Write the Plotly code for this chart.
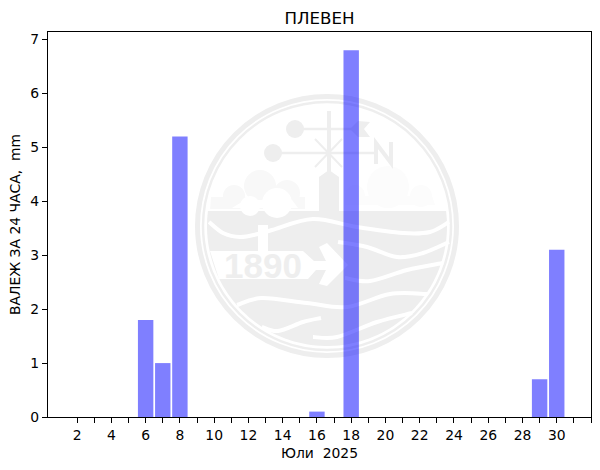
import numpy as np
import plotly.graph_objects as go

days = [6, 7, 8, 16, 18, 29, 30]
rain = [1.8, 1.0, 5.2, 0.1, 6.8, 0.7, 3.1]
tick_vals = list(range(2, 33))
tick_text = [str(d) if d % 2 == 0 and d < 32 else "" for d in tick_vals]
title = "ПЛЕВЕН"
x_title = "Юли  2025"
y_title = "ВАЛЕЖ ЗА 24 ЧАСА,  mm"

W, H, L, R, T, B = 600, 470, 48, 591, 32, 417
GREY = "#eeeeee"

def X(p): return (p - L) / (R - L)
def Y(p): return (B - p) / (B - T)
def path(pts, close=True):
    s = "M" + " L".join(f"{X(a):.5f},{Y(b):.5f}" for a, b in pts)
    return s + (" Z" if close else "")
def curve(pts):
    # Catmull-Rom style smooth curve through pixel points, for the logo waves
    out = f"M{X(pts[0][0]):.5f},{Y(pts[0][1]):.5f}"
    n = len(pts)
    for i in range(n - 1):
        p0 = pts[max(i - 1, 0)]; p1 = pts[i]; p2 = pts[i + 1]; p3 = pts[min(i + 2, n - 1)]
        c1 = (p1[0] + (p2[0] - p0[0]) / 6, p1[1] + (p2[1] - p0[1]) / 6)
        c2 = (p2[0] - (p3[0] - p1[0]) / 6, p2[1] - (p3[1] - p1[1]) / 6)
        out += (f" C{X(c1[0]):.5f},{Y(c1[1]):.5f} {X(c2[0]):.5f},{Y(c2[1]):.5f}"
                f" {X(p2[0]):.5f},{Y(p2[1]):.5f}")
    return out

CX, CY = 327, 226
shapes = []
def ring(r, w, col=GREY):
    shapes.append(dict(type="circle", xref="paper", yref="paper", layer="below",
                       x0=X(CX - r), x1=X(CX + r), y0=Y(CY + r), y1=Y(CY - r),
                       line=dict(color=col, width=w), fillcolor="rgba(0,0,0,0)"))
def dot(x, y, r, col=GREY):
    shapes.append(dict(type="circle", xref="paper", yref="paper", layer="below",
                       x0=X(x - r), x1=X(x + r), y0=Y(y + r), y1=Y(y - r),
                       line=dict(width=0), fillcolor=col))
def poly(pts, col=GREY):
    shapes.append(dict(type="path", xref="paper", yref="paper", layer="below",
                       path=path(pts), line=dict(width=0), fillcolor=col))
def stroke(d, w, col="white"):
    shapes.append(dict(type="path", xref="paper", yref="paper", layer="below",
                       path=d, line=dict(color=col, width=w), fillcolor="rgba(0,0,0,0)"))

ring(129.5, 5)
ring(124, 2.5)
# lower half disc
RD = 120
a = np.arcsin((211 - CY) / RD)
t = np.linspace(a, np.pi - a, 90)
poly([(CX + RD * np.cos(v), CY + RD * np.sin(v)) for v in t])
# left cloud, outer shape then white inner cloud
LC = "#f8f8f8"
for x, y, r in [(260, 186, 16), (234, 196, 11), (287, 193, 13)]:
    dot(x, y, r, LC)
poly([(210, 211), (211, 197), (305, 197), (305, 211)], LC)
for x, y, r in [(277, 203, 15), (250, 206, 10)]:
    dot(x, y, r, "white")
poly([(232, 208), (245, 200), (292, 200), (298, 208)], "white")
poly([(210, 209), (320, 209), (320, 211), (210, 211)], "white")
# right cloud
RC = "#fcfcfc"
for x, y, r in [(388, 187, 21), (355, 195, 10), (421, 196, 11)]:
    dot(x, y, r, RC)
poly([(345, 205), (345, 196), (432, 196), (435, 205)], RC)
# weather vane
stroke(path([(329, 111), (329, 175)], False), 4, GREY)
stroke(path([(295, 129), (357, 129)], False), 2.5, GREY)
stroke(path([(273, 153), (376, 153)], False), 2.5, GREY)
stroke(path([(315, 139), (342, 167)], False), 2, GREY)
stroke(path([(342, 139), (315, 167)], False), 2, GREY)
dot(295, 129, 9)
dot(273, 153, 9)
poly([(350, 129), (358, 121), (370, 122), (364, 129), (370, 137), (358, 137)])
stroke(path([(376, 164), (376, 143), (391, 163), (391, 142)], False), 4, GREY)
poly([(319, 211), (319, 177), (329, 170), (339, 177), (339, 211)])
# white lines across the water
stroke(curve([(209, 222), (223, 233), (240, 237), (258, 234), (272, 230), (313, 219), (357, 227),
              (403, 233), (430, 232), (449, 222)]), 4)
stroke(curve([(338, 242), (367, 247), (397, 257), (423, 253), (449, 242)]), 4)
stroke(curve([(345, 278), (370, 281), (407, 270), (443, 263)]), 4)
stroke(curve([(237, 305), (262, 298), (307, 303), (347, 307), (390, 294), (428, 294)]), 4)
stroke(curve([(262, 327), (278, 331), (303, 322), (321, 318)]), 4)
stroke(curve([(313, 337), (337, 337), (377, 322), (412, 313)]), 4)
# 1890 sign: post, white band, arrow
poly([(258, 225), (268, 225), (268, 252), (258, 252)], "white")
poly([(210, 251), (303, 251), (314, 261), (326, 261), (319, 247), (327, 243), (348, 265), (327, 286),
      (319, 284), (326, 270), (316, 270), (308, 279), (219, 279)], "white")

fig = go.Figure(go.Bar(x=days, y=rain, width=0.9, marker=dict(color="rgba(0,0,255,0.5)", line=dict(width=0))))
fig.add_annotation(text="<b>1890</b>", x=X(262.5), y=Y(265), xref="paper", yref="paper", showarrow=False,
                   font=dict(family="Liberation Sans", size=35, color=GREY))
axis_font = dict(family="DejaVu Sans", size=13.9, color="black")
fig.update_layout(
    width=W, height=H, margin=dict(l=L, r=W - R, t=T, b=H - B),
    paper_bgcolor="white", plot_bgcolor="rgba(0,0,0,0)", shapes=shapes, showlegend=False,
    title=dict(text=title, x=0.5325, y=0.962, xanchor="center", yanchor="middle",
               font=dict(family="DejaVu Sans", size=16.67, color="black")),
    xaxis=dict(range=[0.3, 32], tickmode="array", tickvals=tick_vals, ticktext=tick_text,
               ticks="outside", ticklen=5, tickwidth=1.1, tickcolor="black", showgrid=False, zeroline=False,
               showline=True, linecolor="black", linewidth=1.1, mirror=True, tickangle=0, tickfont=axis_font,
               title=dict(text=x_title, font=axis_font, standoff=6)),
    yaxis=dict(range=[0, 7.14], tickmode="array", tickvals=list(range(8)), ticks="outside", ticklen=5,
               tickwidth=1.1, tickcolor="black", showgrid=False, zeroline=False, showline=True,
               linecolor="black", linewidth=1.1, mirror=True, tickfont=axis_font,
               title=dict(text=y_title, font=axis_font, standoff=6)),
)
fig.write_html("out.html", config={"displayModeBar": False}, post_script="document.body.style.margin='0';")
